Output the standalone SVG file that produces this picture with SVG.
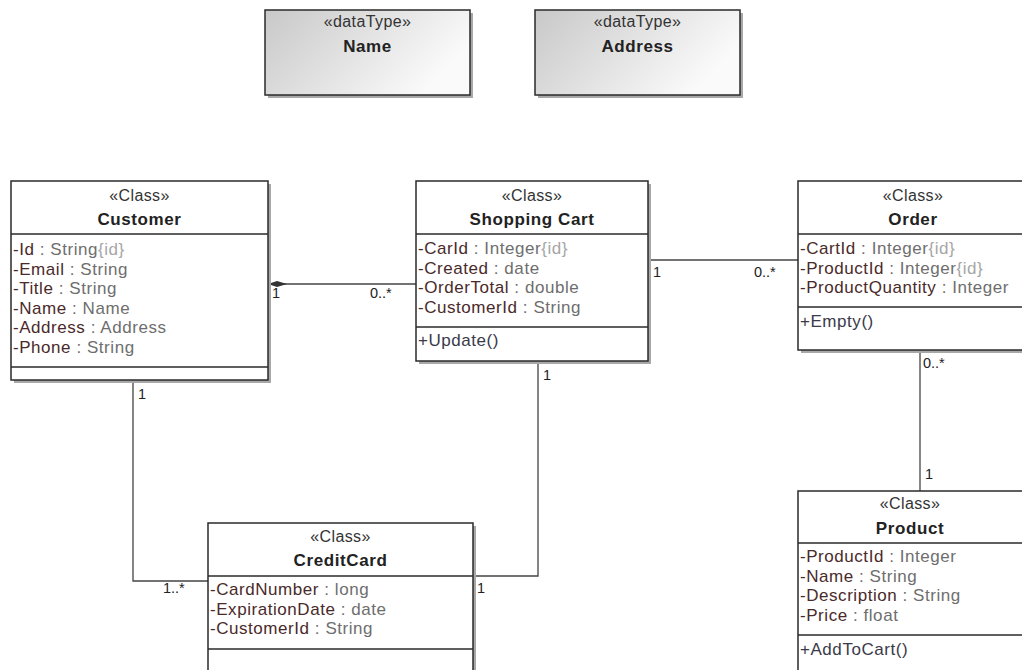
<svg xmlns="http://www.w3.org/2000/svg" width="1022" height="670" viewBox="0 0 1022 670">
<style>
  .box{fill:#ffffff;stroke:#2a2a2a;stroke-width:1.5}
  .dt{fill:url(#dtg);stroke:#2a2a2a;stroke-width:1.5}
  .shadow{fill:#a8a8a8}
  .div{stroke:#2a2a2a;stroke-width:1.5}
  .st{font-family:"Liberation Sans",Arial,sans-serif;font-size:16px;fill:#333;letter-spacing:0.4px;text-anchor:middle}
  .nm{font-family:"Liberation Sans",Arial,sans-serif;font-size:17px;font-weight:bold;fill:#222;letter-spacing:0.6px;text-anchor:middle}
  .at{font-family:"Liberation Sans",Arial,sans-serif;font-size:17px;fill:#4a2a2a;letter-spacing:0.55px}
  .ty{fill:#6e6e6e}
  .idt{fill:#a6a6a6}
  .op{font-family:"Liberation Sans",Arial,sans-serif;font-size:17px;fill:#3a3a4a;letter-spacing:0.55px}
  .conn{fill:none;stroke:#444;stroke-width:1.3}
  .mul{font-family:"Liberation Sans",Arial,sans-serif;font-size:14.5px;fill:#222}
</style>
<defs>
  <linearGradient id="dtg" x1="0" y1="0" x2="1" y2="0.4">
    <stop offset="0" stop-color="#c8c8c8"/>
    <stop offset="1" stop-color="#fafafa"/>
  </linearGradient>
</defs>
<rect width="1022" height="670" fill="#ffffff"/>

<g id="connectors">
  <line class="conn" x1="268" y1="284" x2="416" y2="284"/>
  <polygon points="268,284 277,281 287,284 277,287" fill="#333"/>
  <line class="conn" x1="648" y1="260" x2="798" y2="260"/>
  <line class="conn" x1="920" y1="350" x2="920" y2="491"/>
  <polyline class="conn" points="133,380 133,581 208,581"/>
  <polyline class="conn" points="538,361 538,576 473,576"/>
  <text class="mul" x="272" y="298">1</text>
  <text class="mul" x="370" y="298">0..*</text>
  <text class="mul" x="653" y="277">1</text>
  <text class="mul" x="754" y="277">0..*</text>
  <text class="mul" x="923" y="368">0..*</text>
  <text class="mul" x="925" y="479">1</text>
  <text class="mul" x="138" y="399">1</text>
  <text class="mul" x="163" y="593">1..*</text>
  <text class="mul" x="477" y="593">1</text>
  <text class="mul" x="543" y="380">1</text>
</g>

<g id="name">
  <rect class="shadow" x="268" y="13" width="205" height="85"/>
  <rect class="dt" x="265" y="10" width="205" height="85"/>
  <text class="st" x="367.5" y="27">«dataType»</text>
  <text class="nm" x="367.5" y="52">Name</text>
</g>

<g id="address">
  <rect class="shadow" x="538" y="13" width="205" height="85"/>
  <rect class="dt" x="535" y="10" width="205" height="85"/>
  <text class="st" x="637.5" y="27">«dataType»</text>
  <text class="nm" x="637.5" y="52">Address</text>
</g>

<g id="customer">
  <rect class="shadow" x="14" y="184" width="257" height="199"/>
  <rect class="box" x="11" y="181" width="257" height="199"/>
  <line class="div" x1="11" y1="234" x2="268" y2="234"/>
  <line class="div" x1="11" y1="367" x2="268" y2="367"/>
  <text class="st" x="139.5" y="201">«Class»</text>
  <text class="nm" x="139.5" y="225">Customer</text>
  <text class="at" x="13" y="255">-Id<tspan class="ty"> : String</tspan><tspan class="idt">{id}</tspan></text>
  <text class="at" x="13" y="274.6">-Email<tspan class="ty"> : String</tspan></text>
  <text class="at" x="13" y="294.2">-Title<tspan class="ty"> : String</tspan></text>
  <text class="at" x="13" y="313.8">-Name <tspan class="ty"> : Name</tspan></text>
  <text class="at" x="13" y="333.4">-Address<tspan class="ty"> : Address</tspan></text>
  <text class="at" x="13" y="353">-Phone<tspan class="ty"> : String</tspan></text>
</g>

<g id="shopping-cart">
  <rect class="shadow" x="419" y="184" width="232" height="180"/>
  <rect class="box" x="416" y="181" width="232" height="180"/>
  <line class="div" x1="416" y1="234" x2="648" y2="234"/>
  <line class="div" x1="416" y1="327" x2="648" y2="327"/>
  <text class="st" x="532" y="201">«Class»</text>
  <text class="nm" x="532" y="225">Shopping Cart</text>
  <text class="at" x="418" y="254">-CarId<tspan class="ty"> : Integer</tspan><tspan class="idt">{id}</tspan></text>
  <text class="at" x="418" y="273.6">-Created<tspan class="ty"> : date</tspan></text>
  <text class="at" x="418" y="293.2">-OrderTotal<tspan class="ty"> : double</tspan></text>
  <text class="at" x="418" y="312.8">-CustomerId<tspan class="ty"> : String</tspan></text>
  <text class="op" x="418" y="346">+Update()</text>
</g>

<g id="order">
  <rect class="shadow" x="801" y="184" width="230" height="169"/>
  <rect class="box" x="798" y="181" width="230" height="169"/>
  <line class="div" x1="798" y1="234" x2="1028" y2="234"/>
  <line class="div" x1="798" y1="307" x2="1028" y2="307"/>
  <text class="st" x="913" y="201">«Class»</text>
  <text class="nm" x="913" y="225">Order</text>
  <text class="at" x="800" y="254">-CartId<tspan class="ty"> : Integer</tspan><tspan class="idt">{id}</tspan></text>
  <text class="at" x="800" y="273.6">-ProductId<tspan class="ty"> : Integer</tspan><tspan class="idt">{id}</tspan></text>
  <text class="at" x="800" y="293.2">-ProductQuantity <tspan class="ty"> : Integer</tspan></text>
  <text class="op" x="800" y="327">+Empty()</text>
</g>

<g id="credit-card">
  <rect class="shadow" x="211" y="526" width="265" height="160"/>
  <rect class="box" x="208" y="523" width="265" height="160"/>
  <line class="div" x1="208" y1="576" x2="473" y2="576"/>
  <line class="div" x1="208" y1="649" x2="473" y2="649"/>
  <text class="st" x="340.5" y="542">«Class»</text>
  <text class="nm" x="340.5" y="566">CreditCard</text>
  <text class="at" x="210" y="595">-CardNumber<tspan class="ty"> : long</tspan></text>
  <text class="at" x="210" y="614.6">-ExpirationDate<tspan class="ty"> : date</tspan></text>
  <text class="at" x="210" y="634.2">-CustomerId<tspan class="ty"> : String</tspan></text>
</g>

<g id="product">
  <rect class="shadow" x="801" y="494" width="226" height="190"/>
  <rect class="box" x="798" y="491" width="226" height="190"/>
  <line class="div" x1="798" y1="543" x2="1024" y2="543"/>
  <line class="div" x1="798" y1="635" x2="1024" y2="635"/>
  <text class="st" x="910" y="509">«Class»</text>
  <text class="nm" x="910" y="534">Product</text>
  <text class="at" x="800" y="562">-ProductId<tspan class="ty"> : Integer</tspan></text>
  <text class="at" x="800" y="581.6">-Name<tspan class="ty"> : String</tspan></text>
  <text class="at" x="800" y="601.2">-Description<tspan class="ty"> : String</tspan></text>
  <text class="at" x="800" y="620.8">-Price<tspan class="ty"> : float</tspan></text>
  <text class="op" x="800" y="655">+AddToCart()</text>
</g>
</svg>
